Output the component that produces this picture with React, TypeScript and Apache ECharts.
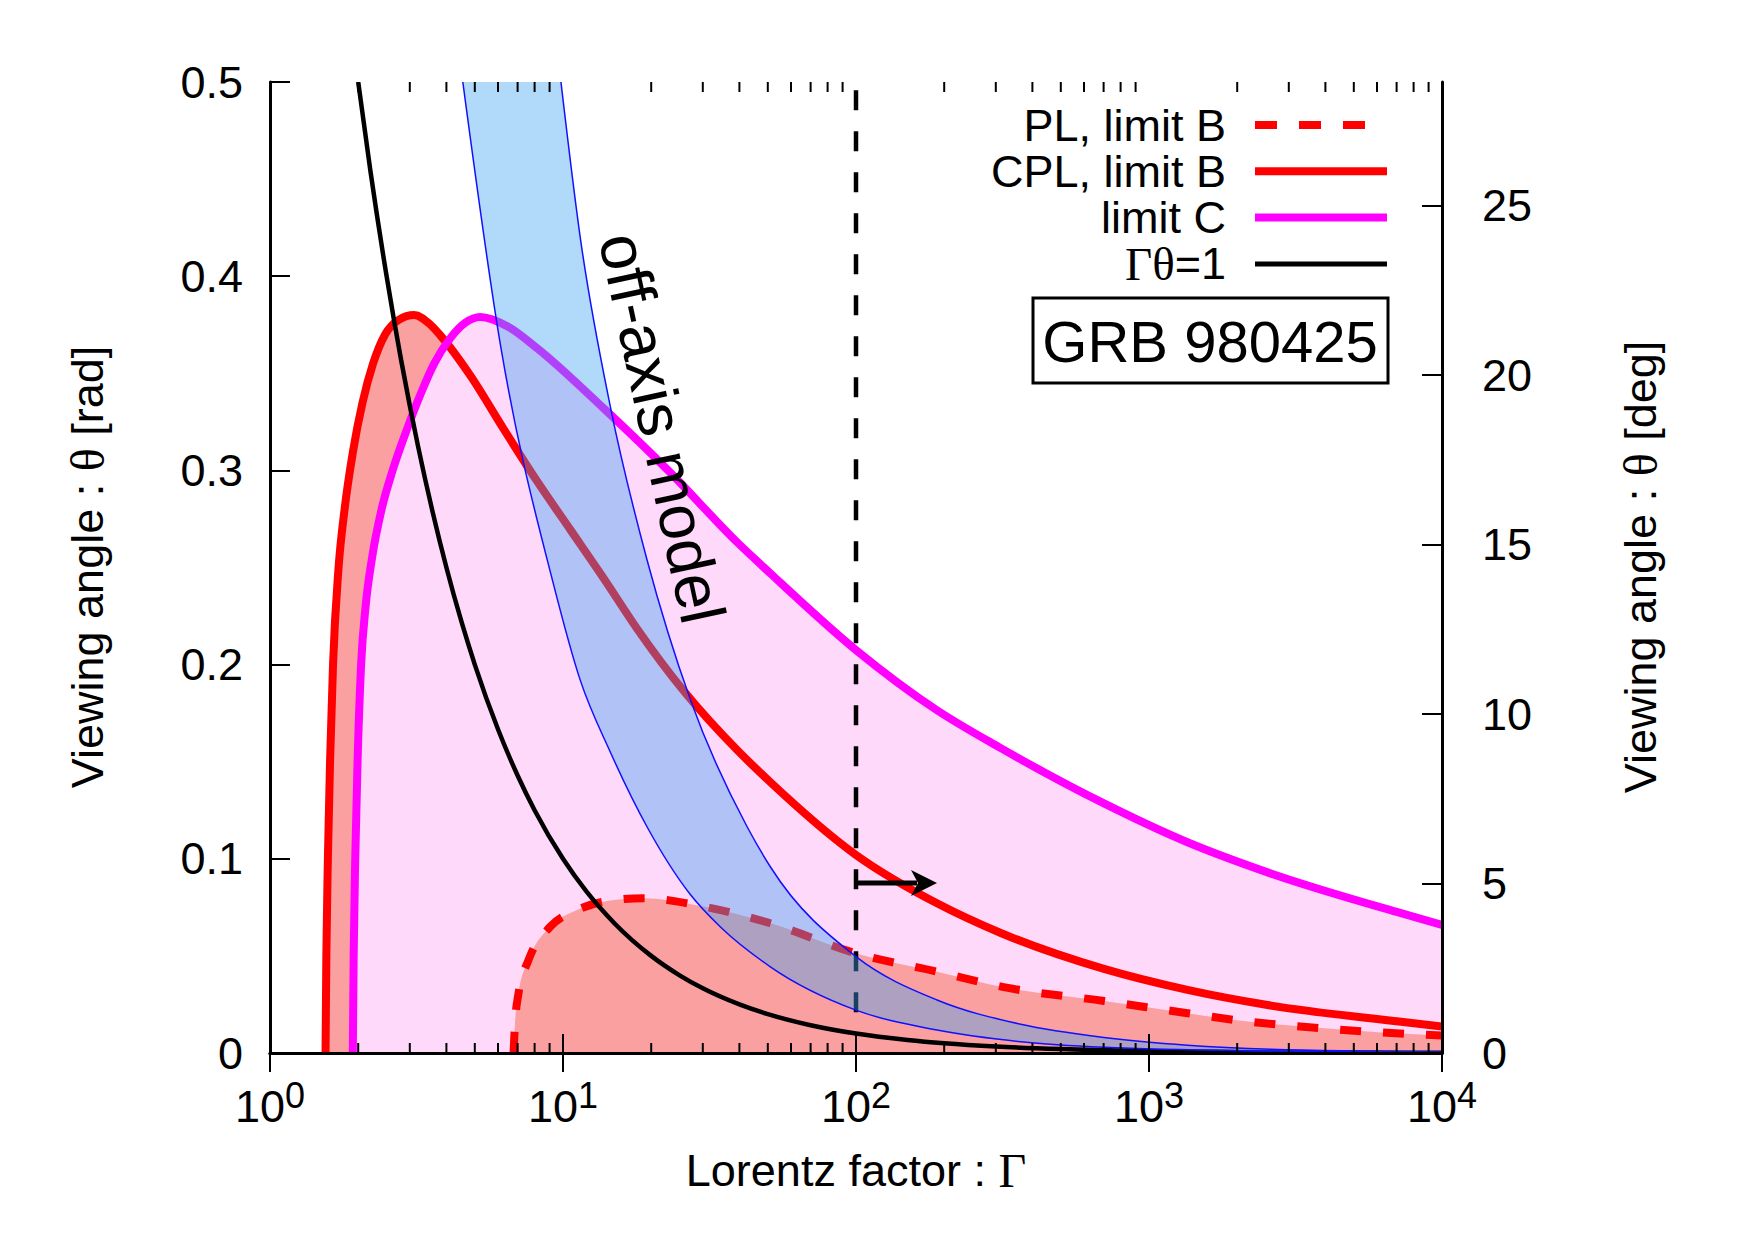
import React, { useEffect, useRef } from "react";
import * as echarts from "echarts";

const SANS = "'Liberation Sans', Arial, Helvetica, sans-serif";
const SERIF = "'Liberation Serif', 'Times New Roman', serif";

// Lorentz factor Γ vs viewing angle θ [rad]
const GAMMA_THETA_ONE: [number, number][] = [
  [2, 0.5], [2.2, 0.4545], [2.5, 0.4], [2.8, 0.3571], [3.2, 0.3125], [3.6, 0.2778],
  [4, 0.25], [4.5, 0.2222], [5, 0.2], [6, 0.1667], [7, 0.1429], [8, 0.125],
  [10, 0.1], [12, 0.0833], [15, 0.0667], [20, 0.05], [25, 0.04], [30, 0.0333],
  [40, 0.025], [50, 0.02], [70, 0.0143], [100, 0.01], [150, 0.0067], [200, 0.005],
  [300, 0.0033], [500, 0.002], [1000, 0.001], [2000, 0.0005], [10000, 0.0001],
];

const CPL_LIMIT_B: [number, number][] = [
  [1.547, 0], [1.557, 0.05], [1.576, 0.1], [1.603, 0.15], [1.641, 0.2],
  [1.714, 0.25], [1.797, 0.28], [1.921, 0.31], [2.07, 0.335], [2.248, 0.355],
  [2.471, 0.37], [2.75, 0.3775], [3.104, 0.38], [3.5, 0.3755], [3.81, 0.3696],
  [4.82, 0.349], [6.26, 0.3215], [8.15, 0.2945], [10.59, 0.2695], [13.76, 0.2445],
  [17.9, 0.2185], [25.8, 0.1865], [39.3, 0.156], [51, 0.1395], [100, 0.102],
  [189, 0.0771], [312, 0.0618], [702, 0.0433], [1353, 0.0325], [2539, 0.0247],
  [7244, 0.0161], [10000, 0.0136],
];

const LIMIT_C: [number, number][] = [
  [1.917, 0], [1.93, 0.05], [1.954, 0.1], [1.99, 0.15], [2.046, 0.2],
  [2.12, 0.23], [2.23, 0.255], [2.404, 0.28], [2.621, 0.3], [2.914, 0.32],
  [3.28, 0.34], [3.633, 0.355], [4.12, 0.368], [4.637, 0.376], [5.216, 0.379],
  [6.5, 0.374], [8.15, 0.363], [13.76, 0.332], [23.2, 0.299], [39.3, 0.263],
  [51, 0.247], [100, 0.2075], [189, 0.1765], [312, 0.157], [702, 0.1285],
  [1353, 0.1085], [2539, 0.093], [7244, 0.072], [10000, 0.066],
];

const PL_LIMIT_B: [number, number][] = [
  [6.78, 0], [6.85, 0.014], [7.05, 0.0307], [7.63, 0.0479], [9.04, 0.065],
  [11.16, 0.0736], [14.5, 0.0785], [18.85, 0.0797], [30.2, 0.0754], [51, 0.0668],
  [100, 0.0513], [189, 0.0419], [330, 0.0335], [702, 0.0268], [1353, 0.0205],
  [2170, 0.0162], [3050, 0.0141], [6030, 0.0107], [10000, 0.009],
];

// off-axis model band edges
const BAND_LOWER: [number, number][] = [
  [4.55, 0.5], [6.11, 0.365], [9.24, 0.2425], [11.45, 0.192], [14.5, 0.155],
  [19.35, 0.1165], [27.2, 0.0816], [34.4, 0.065], [51, 0.0444], [100, 0.0221],
  [189, 0.0118], [365, 0.0058], [702, 0.0029], [2606, 0.0009], [10000, 0.0002],
];
const BAND_UPPER: [number, number][] = [
  [9.84, 0.5], [11.45, 0.42], [14.5, 0.333], [19.35, 0.254], [27.2, 0.182],
  [42.5, 0.1165], [51, 0.0959], [100, 0.0496], [189, 0.0273], [365, 0.0148],
  [702, 0.0080], [1353, 0.0040], [2606, 0.0019], [10000, 0.0005],
];

// vertical Γ = 100 marker and arrow
const GAMMA_MARK: [number, number][] = [[100, 0.021], [100, 0.5]];
const ARROW: [number, number, number][] = [[100, 0.0875, 189]];

const X_MAJOR_TICKS = [1, 10, 100, 1000, 10000];
const X_TICK_EXPONENTS = ["0", "1", "2", "3", "4"];
const X_MINOR_TICKS = [
  2, 3, 4, 5, 6, 7, 8, 9,
  20, 30, 40, 50, 60, 70, 80, 90,
  200, 300, 400, 500, 600, 700, 800, 900,
  2000, 3000, 4000, 5000, 6000, 7000, 8000, 9000,
];

const THETA_MAX_RAD = 0.5;
const THETA_MAX_DEG = 28.6479;

const LEGEND_ITEMS = [
  { label: "PL, limit B", color: "#ff0000", width: 8, dash: [22, 22] as number[] | null },
  { label: "CPL, limit B", color: "#ff0000", width: 8, dash: null },
  { label: "limit C", color: "#ff00ff", width: 8, dash: null },
  { label: "{g|Γθ}{n|=1}", color: "#000000", width: 5, dash: null },
];

const RED = "#ff0000";
const MAGENTA = "#ff00ff";
const SALMON = "#fba0a0";
const PINK = "#ffd9fa";
const BAND_FILL = "rgba(60,160,240,0.4)";
const BAND_EDGE = "#1010ff";

const axisLine = { show: true, lineStyle: { color: "#000", width: 3 } };

type Seg = [number, number, number, number, number, number]; // c1x c1y c2x c2y x y

// monotone cubic (in screen x) through pixel points, as bezier segments
function monotoneSegments(pts: number[][]): Seg[] {
  const n = pts.length;
  const h: number[] = [];
  const s: number[] = [];
  for (let i = 0; i < n - 1; i++) {
    h[i] = pts[i + 1][0] - pts[i][0];
    s[i] = (pts[i + 1][1] - pts[i][1]) / h[i];
  }
  const m: number[] = new Array(n).fill(0);
  for (let i = 1; i < n - 1; i++) {
    const p = (s[i - 1] * h[i] + s[i] * h[i - 1]) / (h[i - 1] + h[i]);
    m[i] = (Math.sign(s[i - 1]) + Math.sign(s[i])) * Math.min(Math.abs(s[i - 1]), Math.abs(s[i]), 0.5 * Math.abs(p)) || 0;
  }
  m[0] = n > 2 ? (3 * s[0] - m[1]) / 2 : s[0];
  m[n - 1] = n > 2 ? (3 * s[n - 2] - m[n - 2]) / 2 : s[n - 2];
  const segs: Seg[] = [];
  for (let i = 0; i < n - 1; i++) {
    const d = h[i] / 3;
    segs.push([
      pts[i][0] + d, pts[i][1] + m[i] * d,
      pts[i + 1][0] - d, pts[i + 1][1] - m[i + 1] * d,
      pts[i + 1][0], pts[i + 1][1],
    ]);
  }
  return segs;
}

function segPath(segs: Seg[]): string {
  return segs.map((q) => `C${q[0]},${q[1]} ${q[2]},${q[3]} ${q[4]},${q[5]}`).join(" ");
}

function reversedSegPath(start: number[][], segs: Seg[]): string {
  let out = "";
  for (let i = segs.length - 1; i >= 0; i--) {
    const q = segs[i];
    const end = start[i];
    out += ` C${q[2]},${q[3]} ${q[0]},${q[1]} ${end[0]},${end[1]}`;
  }
  return out;
}

type CurveOpts = { z: number; stroke?: string; width?: number; dash?: number[]; fill?: string };

// one smooth curve (or the area under it down to θ = 0), placed through the cartesian scales
function curveSeries(name: string, data: [number, number][], opts: CurveOpts) {
  return {
    name,
    type: "custom",
    z: opts.z,
    silent: true,
    clip: true,
    data: [data[0]],
    renderItem: (_p: any, api: any) => {
      const pts = data.map((d) => api.coord(d));
      const lineD = `M${pts[0][0]},${pts[0][1]} ${segPath(monotoneSegments(pts))}`;
      if (opts.fill) {
        const b0 = api.coord([data[0][0], 0]);
        const b1 = api.coord([data[data.length - 1][0], 0]);
        return {
          type: "path",
          shape: { pathData: `${lineD} L${b1[0]},${b1[1]} L${b0[0]},${b0[1]} Z` },
          style: { fill: opts.fill, stroke: null },
        };
      }
      return {
        type: "path",
        shape: { pathData: lineD },
        style: {
          fill: null,
          stroke: opts.stroke,
          lineWidth: opts.width,
          lineDash: opts.dash || null,
          lineCap: "butt",
          lineJoin: "round",
        },
      };
    },
  };
}

function buildOption() {
  const xCommon = {
    type: "log" as const,
    logBase: 10,
    min: 1,
    max: 10000,
    z: 10,
    axisLine,
    splitLine: { show: false },
    minorTick: { show: false },
    axisLabel: { show: false },
    axisTick: { show: true, inside: true, length: 19, lineStyle: { color: "#000", width: 2 } },
  };

  const legendGraphics: any[] = [];
  LEGEND_ITEMS.forEach((it, i) => {
    const y = 125 + i * 46.3;
    legendGraphics.push({
      type: "text",
      x: 1226,
      y,
      z: 100,
      style: {
        text: it.label,
        fontSize: 45,
        lineHeight: 40,
        fontFamily: SANS,
        fill: "#000",
        align: "right",
        textAlign: "right",
        verticalAlign: "middle",
        textVerticalAlign: "middle",
        rich: {
          g: { fontFamily: SERIF, fontSize: 47, lineHeight: 40, fill: "#000" },
          n: { fontFamily: SANS, fontSize: 45, lineHeight: 40, fill: "#000" },
        },
      },
    });
    legendGraphics.push({
      type: "line",
      z: 100,
      shape: { x1: 1255, y1: y, x2: 1387, y2: y },
      style: { stroke: it.color, lineWidth: it.width, lineDash: it.dash || undefined, lineCap: "butt" },
    });
  });

  return {
    animation: false,
    backgroundColor: "#ffffff",
    textStyle: { fontFamily: SANS, color: "#000" },
    grid: { left: 270, top: 82, width: 1172, height: 971, containLabel: false },
    xAxis: [
      { ...xCommon, position: "bottom" },
      { ...xCommon, position: "top" },
    ],
    yAxis: [
      {
        type: "value",
        position: "left",
        min: 0,
        max: THETA_MAX_RAD,
        interval: 0.1,
        z: 10,
        axisLine,
        splitLine: { show: false },
        axisTick: { show: true, inside: true, length: 20, lineStyle: { color: "#000", width: 2 } },
        axisLabel: {
          show: true,
          margin: 27,
          fontSize: 45,
          fontFamily: SANS,
          color: "#000",
          showMinLabel: true,
          showMaxLabel: true,
          formatter: (v: number) => (v === 0 ? "0" : v.toFixed(1)),
        },
      },
      {
        type: "value",
        position: "right",
        min: 0,
        max: THETA_MAX_DEG,
        interval: 5,
        z: 10,
        axisLine,
        splitLine: { show: false },
        axisTick: { show: true, inside: true, length: 20, lineStyle: { color: "#000", width: 2 } },
        axisLabel: {
          show: true,
          margin: 40,
          fontSize: 45,
          fontFamily: SANS,
          color: "#000",
          showMinLabel: true,
          showMaxLabel: false,
          formatter: (v: number) => (Math.abs(v - Math.round(v)) < 1e-6 ? String(Math.round(v)) : ""),
        },
      },
    ],
    series: [
      // filled regions
      curveSeries("CPL fill", CPL_LIMIT_B, { z: 1, fill: SALMON }),
      curveSeries("limit C fill", LIMIT_C, { z: 2, fill: PINK }),
      curveSeries("PL fill", PL_LIMIT_B, { z: 3, fill: SALMON }),
      // curves
      curveSeries("CPL, limit B", CPL_LIMIT_B, { z: 4, stroke: RED, width: 8 }),
      curveSeries("limit C", LIMIT_C, { z: 4, stroke: MAGENTA, width: 8 }),
      curveSeries("PL, limit B", PL_LIMIT_B, { z: 4, stroke: RED, width: 8, dash: [21, 22] }),
      curveSeries("Γθ=1", GAMMA_THETA_ONE, { z: 4, stroke: "#000", width: 4.5 }),
      {
        name: "Γ=100", type: "line", data: GAMMA_MARK, symbol: "none", silent: true, z: 4,
        lineStyle: { color: "#000", width: 4.5, type: [20, 21], cap: "butt" },
      },
      // off-axis model band (translucent, drawn over the curves)
      {
        name: "off-axis model", type: "custom", z: 5, silent: true, clip: true,
        data: [BAND_LOWER[0]],
        renderItem: (_p: any, api: any) => {
          const lower = BAND_LOWER.map((d) => api.coord(d));
          const upper = BAND_UPPER.map((d) => api.coord(d));
          const lo = monotoneSegments(lower);
          const up = monotoneSegments(upper);
          const upperD = `M${upper[0][0]},${upper[0][1]} ${segPath(up)}`;
          const lowerD = `M${lower[0][0]},${lower[0][1]} ${segPath(lo)}`;
          const last = lower[lower.length - 1];
          const fillD = `${upperD} L${last[0]},${last[1]}${reversedSegPath(lower, lo)} Z`;
          return {
            type: "group",
            children: [
              { type: "path", shape: { pathData: fillD }, style: { fill: BAND_FILL, stroke: null } },
              { type: "path", shape: { pathData: lowerD }, style: { fill: null, stroke: BAND_EDGE, lineWidth: 1.5 } },
              { type: "path", shape: { pathData: upperD }, style: { fill: null, stroke: BAND_EDGE, lineWidth: 1.5 } },
            ],
          };
        },
      },
      // arrow pointing to larger Γ
      {
        name: "arrow", type: "custom", z: 7, silent: true, data: ARROW,
        renderItem: (_p: any, api: any) => {
          const a = api.coord([api.value(0), api.value(1)]);
          const b = api.coord([api.value(2), api.value(1)]);
          const len = 26;
          const half = 13;
          return {
            type: "group",
            children: [
              { type: "line", shape: { x1: a[0] + 2, y1: a[1], x2: b[0] - len + 6, y2: b[1] }, style: { stroke: "#000", lineWidth: 5 } },
              {
                type: "polygon",
                shape: { points: [[b[0], b[1]], [b[0] - len, b[1] - half], [b[0] - len + 7, b[1]], [b[0] - len, b[1] + half]] },
                style: { fill: "#000" },
              },
            ],
          };
        },
      },
      // minor log ticks on bottom and top frame
      {
        name: "minor ticks", type: "custom", z: 10, silent: true,
        data: X_MINOR_TICKS.map((v) => [v, 0]),
        renderItem: (_p: any, api: any) => {
          const v = api.value(0);
          const lo = api.coord([v, 0]);
          const hi = api.coord([v, THETA_MAX_RAD]);
          return {
            type: "group",
            children: [
              { type: "line", shape: { x1: lo[0], y1: lo[1], x2: lo[0], y2: lo[1] - 10 }, style: { stroke: "#000", lineWidth: 2 } },
              { type: "line", shape: { x1: hi[0], y1: hi[1], x2: hi[0], y2: hi[1] + 10 }, style: { stroke: "#000", lineWidth: 2 } },
            ],
          };
        },
      },
      // decade labels 10^n under the bottom axis
      {
        name: "decade labels", type: "custom", z: 10, silent: true,
        data: X_MAJOR_TICKS.map((v, i) => [v, 0, i]),
        renderItem: (_p: any, api: any) => {
          const p = api.coord([api.value(0), 0]);
          const exp = X_TICK_EXPONENTS[api.value(2)];
          return {
            type: "group",
            children: [
              {
                type: "text", x: p[0] + 15, y: p[1] + 53,
                style: { text: "10", fontSize: 45, fontFamily: SANS, fill: "#000", align: "right", verticalAlign: "middle", textAlign: "right", textVerticalAlign: "middle" },
              },
              {
                type: "text", x: p[0] + 15, y: p[1] + 42,
                style: { text: exp, fontSize: 36, fontFamily: SANS, fill: "#000", align: "left", verticalAlign: "middle", textAlign: "left", textVerticalAlign: "middle" },
              },
            ],
          };
        },
      },
    ],
    graphic: [
      ...legendGraphics,
      {
        type: "rect", z: 100,
        shape: { x: 1033, y: 298, width: 355, height: 85 },
        style: { fill: "#fff", stroke: "#000", lineWidth: 3 },
      },
      {
        type: "text", x: 1210, y: 341, z: 101,
        style: {
          text: "GRB 980425", fontSize: 58, fontFamily: SANS, fill: "#000",
          align: "center", textAlign: "center", verticalAlign: "middle", textVerticalAlign: "middle",
        },
      },
      {
        type: "text", x: 662, y: 428, z: 100, rotation: -1.358,
        style: {
          text: "off-axis model", fontSize: 64, fontFamily: SANS, fill: "#000",
          align: "center", textAlign: "center", verticalAlign: "middle", textVerticalAlign: "middle",
        },
      },
      {
        type: "text", x: 856, y: 1170, z: 100,
        style: {
          text: "{a|Lorentz factor : }{g|Γ}", fill: "#000",
          align: "center", textAlign: "center", verticalAlign: "middle", textVerticalAlign: "middle",
          rich: {
            a: { fontSize: 45, fontFamily: SANS, fill: "#000" },
            g: { fontSize: 48, fontFamily: SERIF, fill: "#000" },
          },
        },
      },
      {
        type: "text", x: 87, y: 567, z: 100, rotation: Math.PI / 2,
        style: {
          text: "{a|Viewing angle : }{g|θ}{a| [rad]}", fill: "#000",
          align: "center", textAlign: "center", verticalAlign: "middle", textVerticalAlign: "middle",
          rich: {
            a: { fontSize: 45, fontFamily: SANS, fill: "#000" },
            g: { fontSize: 48, fontFamily: SERIF, fill: "#000" },
          },
        },
      },
      {
        type: "text", x: 1640, y: 567, z: 100, rotation: Math.PI / 2,
        style: {
          text: "{a|Viewing angle : }{g|θ}{a| [deg]}", fill: "#000",
          align: "center", textAlign: "center", verticalAlign: "middle", textVerticalAlign: "middle",
          rich: {
            a: { fontSize: 45, fontFamily: SANS, fill: "#000" },
            g: { fontSize: 48, fontFamily: SERIF, fill: "#000" },
          },
        },
      },
    ],
  };
}

export default function App() {
  const ref = useRef<HTMLDivElement>(null);
  useEffect(() => {
    if (!ref.current) return;
    const chart = echarts.init(ref.current, null, { renderer: "svg" });
    chart.setOption(buildOption() as any);
    return () => chart.dispose();
  }, []);
  return (
    <div
      ref={ref}
      style={{ position: "absolute", left: 0, top: 0, width: 1755, height: 1240, background: "#fff" }}
    />
  );
}
